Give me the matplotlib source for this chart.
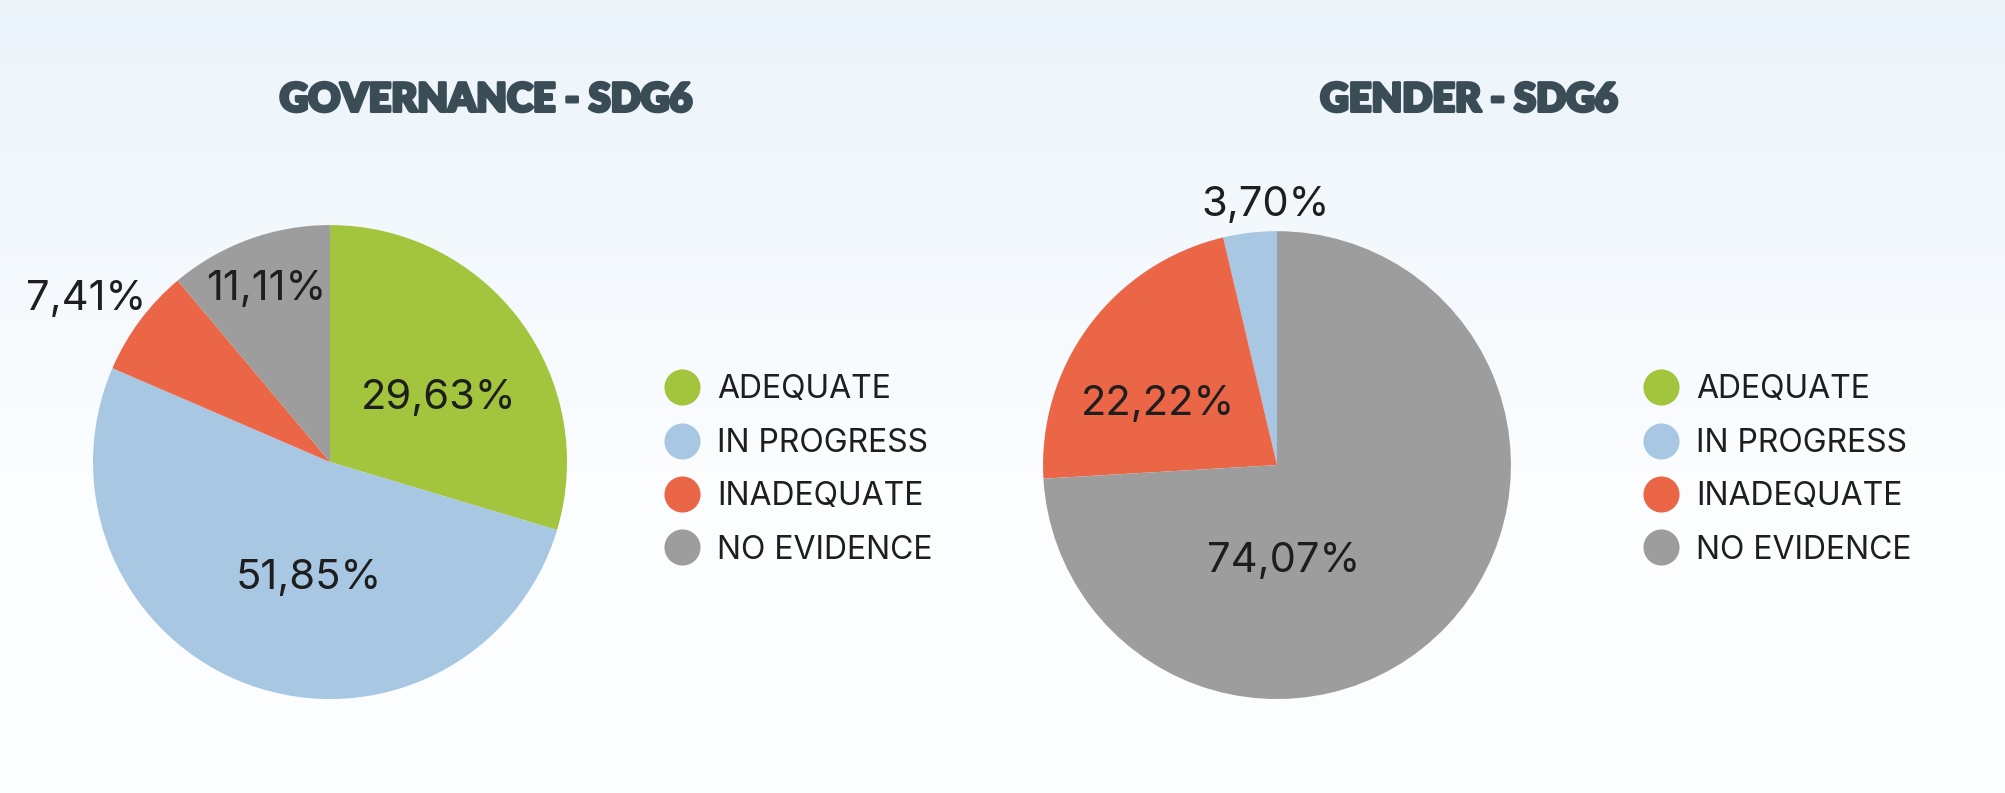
import numpy as np
import matplotlib
matplotlib.use("Agg")
import matplotlib.pyplot as plt
import matplotlib.patheffects as pe
from matplotlib.lines import Line2D

# data
categories = ["ADEQUATE", "IN PROGRESS", "INADEQUATE", "NO EVIDENCE"]
governance = [29.63, 51.85, 7.41, 11.11]
gender = [0.0, 3.70, 22.22, 74.07]
colors = ["#a3c43d", "#a8c7e2", "#eb6547", "#9d9d9d"]
titles = ["GOVERNANCE - SDG6", "GENDER - SDG6"]

def fmt(v):
    return ("%.2f%%" % v).replace(".", ",")

fig = plt.figure(figsize=(20.05, 7.93), dpi=100)

# background gradient
bg = fig.add_axes([0, 0, 1, 1], zorder=-10)
grad = np.linspace(0, 1, 256).reshape(-1, 1)
top = np.array([0.925, 0.957, 0.984])
bot = np.array([0.988, 0.994, 1.0])
img = top + (bot - top) * np.clip(grad * 1.6, 0, 1)[:, :, None]
bg.imshow(img, aspect="auto", extent=[0, 1, 0, 1])
bg.axis("off")

label_font = dict(family="Inter", fontsize=30, color="#1e1e1e")

# governance pie (clockwise from 12 o'clock)
ax1 = fig.add_axes([0.0464, 0.1185, 0.2364, 0.5977])
ax1.pie(governance, colors=colors, startangle=90, counterclock=False,
        wedgeprops=dict(linewidth=0))
ax1.set_xlim(-1, 1); ax1.set_ylim(-1, 1)
gov_pos = [(0.46, 0.27), (-0.09, -0.49), (-1.03, 0.69), (-0.27, 0.73)]
for v, (x, y) in zip(governance, gov_pos):
    ax1.text(x, y, fmt(v), ha="center", va="center", **label_font)

# gender pie (counter-clockwise from 12 o'clock)
ax2 = fig.add_axes([0.5202, 0.1185, 0.2334, 0.590])
ax2.pie(gender, colors=colors, startangle=90, counterclock=True,
        wedgeprops=dict(linewidth=0))
ax2.set_xlim(-1, 1); ax2.set_ylim(-1, 1)
gen_pos = [None, (-0.05, 1.11), (-0.51, 0.26), (0.03, -0.41)]
for v, p in zip(gender, gen_pos):
    if p is None:
        continue
    ax2.text(p[0], p[1], fmt(v), ha="center", va="center", **label_font)

# titles
for xt, t in zip((486 / 2005, 1469 / 2005), titles):
    fig.text(xt, 1 - 100 / 793, t, ha="center", va="center",
             family="Lato", fontweight="heavy", fontsize=28.5, color="#3a4c55",
             path_effects=[pe.withStroke(linewidth=2.2, foreground="#3a4c55")])

# legends
handles = [Line2D([], [], marker="o", linestyle="", markersize=26,
                  markerfacecolor=c, markeredgewidth=0) for c in colors]
for x0 in (666 / 2005, 1645 / 2005):
    leg = fig.legend(handles, categories, loc="center left",
                     bbox_to_anchor=(x0, 1 - 470 / 793), frameon=False,
                     prop=dict(family="Inter", size=23), labelcolor="#1e1e1e",
                     handlelength=1.0, handletextpad=0.6, labelspacing=0.7,
                     borderpad=0, borderaxespad=0)

fig.savefig("out.png", dpi=100)
